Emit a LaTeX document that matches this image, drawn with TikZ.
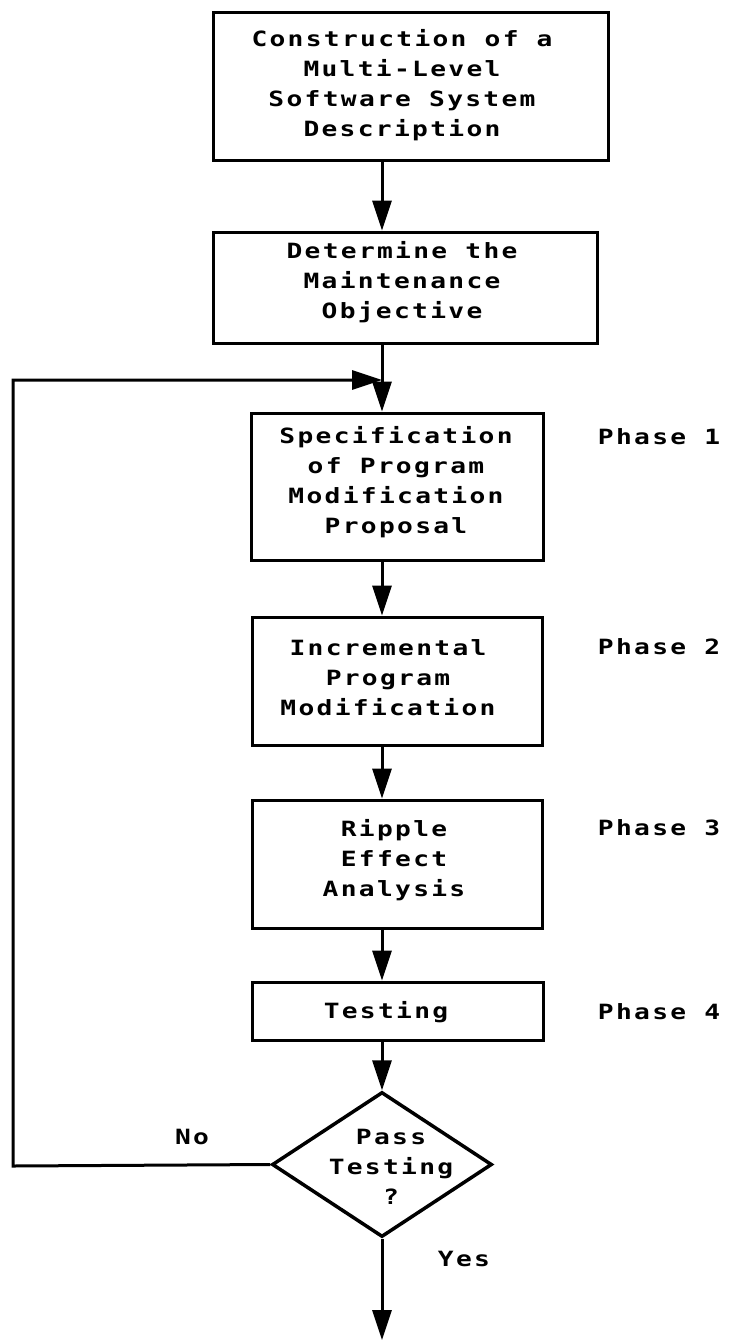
\documentclass[tikz,border=0pt]{standalone}
\usepackage{fontspec}
\newfontfamily\plotfont{DejaVu Sans Mono}[FakeStretch=1.25,LetterSpace=11]
\usetikzlibrary{arrows.meta,shapes.geometric}
\begin{document}
\begin{tikzpicture}[x=1pt,y=-1pt,
  font=\plotfont\bfseries\fontsize{21}{30}\selectfont,
  boxn/.style={draw, line width=3pt, rectangle, inner sep=0pt},
  decision/.style={draw, line width=3.5pt, diamond, inner sep=0pt,
    minimum width=220pt, minimum height=145pt},
  lbl/.style={inner sep=0pt, align=center},
  arr/.style={line width=3pt, -{Triangle[length=30pt,width=19pt]}}]

\useasboundingbox (0,0) rectangle (730,1341);

% x position of the main vertical flow line
\coordinate (ax) at (382,0);

% process boxes
\node[boxn, minimum width=395pt, minimum height=148pt] (b1) at (410.5,86) {};
\node[lbl] (t1) at (402,85) {Construction of a\\Multi-Level\\Software System\\Description};

\node[boxn, minimum width=384pt, minimum height=111pt] (b2) at (405,287.5) {};
\node[lbl] (t2) at (402,282) {Determine the\\Maintenance\\Objective};

\node[boxn, minimum width=292pt, minimum height=147pt] (b3) at (397,486.5) {};
\node[lbl] (t3) at (396,482) {Specification\\of Program\\Modification\\Proposal};

\node[boxn, minimum width=290pt, minimum height=128pt] (b4) at (397,681) {};
\node[lbl] (t4) at (388,678) {Incremental\\Program\\Modification};

\node[boxn, minimum width=290pt, minimum height=128pt] (b5) at (397,864) {};
\node[lbl] (t5) at (394,860) {Ripple\\Effect\\Analysis};

\node[boxn, minimum width=291pt, minimum height=58pt] (b6) at (397.5,1011) {};
\node[lbl] (t6) at (386,1012) {Testing};

% decision
\node[decision] (dia) at (382,1164.5) {};
\node[lbl] (t7) at (391,1167) {Pass\\Testing\\?};

% phase labels
\node[lbl] (p1) at (659,437) {Phase 1};
\node[lbl] (p2) at (659,647) {Phase 2};
\node[lbl] (p3) at (659,828) {Phase 3};
\node[lbl] (p4) at (659,1012) {Phase 4};

% branch labels
\node[lbl] (no) at (192,1137) {No};
\node[lbl] (yes) at (464,1259) {Yes};

% connectors
\coordinate (lb) at (13,1166);
\coordinate (lt) at (13,380);
\coordinate (out) at (382,1340);

\draw[arr] (b1.south -| ax) -- (b2.north -| ax);
\draw[arr] (b2.south -| ax) -- (b3.north -| ax);
\draw[arr] (b3.south -| ax) -- (b4.north -| ax);
\draw[arr] (b4.south -| ax) -- (b5.north -| ax);
\draw[arr] (b5.south -| ax) -- (b6.north -| ax);
\draw[arr] (b6.south -| ax) -- (dia.north);
\draw[arr] (dia.south) -- (out);
\draw[arr] (dia.west) -- (lb) -- (lt) -- (lt -| ax);

\end{tikzpicture}
\end{document}
